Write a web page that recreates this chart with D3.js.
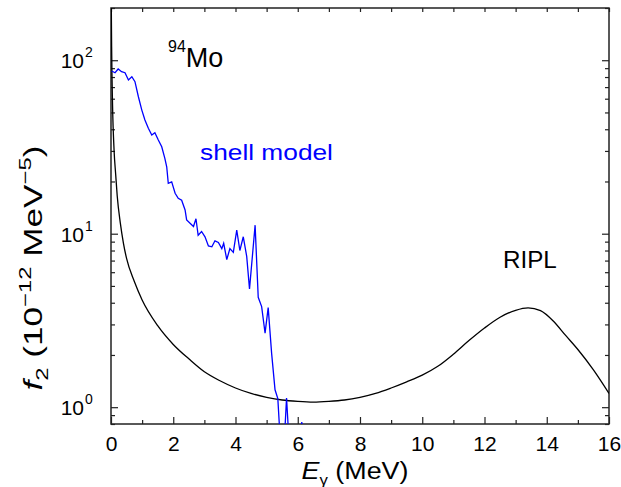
<!DOCTYPE html>
<html><head><meta charset="utf-8">
<script src="https://cdn.jsdelivr.net/npm/d3@7"></script>
<style>
body{margin:0;background:#fff;}
text{font-family:"Liberation Sans",Arial,sans-serif;}
</style></head>
<body>
<svg id="chart" width="621" height="487"></svg>
<script>
// RIPL curve (E in MeV, f2 in 1e-12 MeV^-5)
const riplE = [0.005,0.02,0.05,0.1,0.15,0.2,0.3,0.4,0.5,0.75,1.0,1.5,2.0,2.5,3.0,3.5,4.0,4.5,5.0,5.5,6.0,6.5,7.0,7.5,8.0,8.5,9.0,9.5,10.0,10.5,11.0,11.5,12.0,12.5,13.0,13.4,13.8,14.2,14.6,15.0,15.5,16.0];
const riplF = [260,120,55,30,22,16.5,11.5,8.8,7.2,5.3,4.15,2.95,2.3,1.9,1.6,1.42,1.29,1.2,1.14,1.1,1.08,1.07,1.08,1.1,1.14,1.2,1.29,1.4,1.53,1.72,2.02,2.42,2.86,3.3,3.62,3.74,3.6,3.15,2.6,2.15,1.64,1.2];
// Shell model
const shellE = [0.02,0.13,0.23,0.34,0.45,0.56,0.67,0.77,0.88,0.99,1.09,1.20,1.31,1.41,1.52,1.63,1.73,1.79,1.84,1.95,2.06,2.16,2.27,2.38,2.43,2.54,2.65,2.73,2.80,2.91,3.02,3.13,3.24,3.34,3.45,3.56,3.62,3.72,3.82,3.93,4.04,4.14,4.25,4.36,4.45,4.63,4.73,4.84,4.95,5.05,5.16,5.27,5.36,5.46,5.55,5.64,5.74,6.0,6.13,6.22];
const shellF = [86.7,84.7,89.0,85.9,84.7,76.9,80.3,75.2,61.6,51.6,45.2,40.5,37.1,38.2,34.7,31.7,27.2,24.3,19.5,19.9,17.1,16.0,15.6,13.7,12.0,11.5,11.0,12.2,9.8,10.3,9.6,8.5,8.4,9.1,8.9,8.2,8.8,7.1,8.2,7.8,10.5,8.0,9.6,7.4,4.8,11.2,4.3,3.8,2.67,3.75,2.05,1.26,1.12,0.55,0.55,1.13,0.55,0.5,0.82,0.5];
const xTicks = [0,2,4,6,8,10,12,14,16];
const yTicks = [1,10,100];

const svg = d3.select("#chart");
const L=111, R=609, T=8, B=424;
const x = d3.scaleLinear().domain([0,16]).range([L,R]);
const y = d3.scaleLog().domain([0.8,200]).range([B,T]);

svg.append("clipPath").attr("id","clip").append("rect")
  .attr("x",L).attr("y",T).attr("width",R-L).attr("height",B-T);

const minorY = [0.8,0.9,2,3,4,5,6,7,8,9,20,30,40,50,60,70,80,90,200];
const minorX = d3.range(1,16,2);

// bottom axis
const gB = svg.append("g").attr("transform",`translate(0,${B})`);
gB.call(d3.axisBottom(x).tickValues(xTicks).tickSize(-7).tickPadding(12).tickFormat(d3.format("d")));
gB.append("g").call(d3.axisBottom(x).tickValues(minorX).tickSize(-4).tickFormat(""));
// top axis
const gT = svg.append("g").attr("transform",`translate(0,${T})`);
gT.call(d3.axisTop(x).tickValues(d3.range(0,17,1)).tickSize(-4).tickFormat(""));
// left axis
const gL = svg.append("g").attr("transform",`translate(${L},0)`);
gL.call(d3.axisLeft(y).tickValues(yTicks).tickSize(-7).tickFormat(""));
gL.append("g").call(d3.axisLeft(y).tickValues(minorY).tickSize(-4).tickFormat(""));
// right axis
const gR = svg.append("g").attr("transform",`translate(${R},0)`);
gR.call(d3.axisRight(y).tickValues(yTicks).tickSize(-7).tickFormat(""));
gR.append("g").call(d3.axisRight(y).tickValues(minorY).tickSize(-4).tickFormat(""));

svg.selectAll(".domain").remove();
svg.selectAll(".tick line").attr("stroke","#222").attr("stroke-width",1.2);
svg.selectAll(".tick text").attr("font-size",21).attr("fill","#000")
  .style("font-family",'"Liberation Sans",Arial,sans-serif');

// y tick labels 10^n
yTicks.forEach(v=>{
  svg.append("text").attr("x",84).attr("y",y(v)+8).attr("text-anchor","end")
    .attr("font-size",21).text("10");
  svg.append("text").attr("x",85).attr("y",y(v)-3).attr("font-size",14).text(Math.round(Math.log10(v)));
});

// frame
svg.append("rect").attr("x",L).attr("y",T).attr("width",R-L).attr("height",B-T)
  .attr("fill","none").attr("stroke","#222").attr("stroke-width",1.5);

const riplPts = riplE.map((e,i)=>[e,riplF[i]]);
const shellPts = shellE.map((e,i)=>[e,shellF[i]]);

svg.append("path").attr("clip-path","url(#clip)")
  .attr("d", d3.line().x(d=>x(d[0])).y(d=>y(d[1])).curve(d3.curveMonotoneX)(riplPts))
  .attr("fill","none").attr("stroke","#000").attr("stroke-width",1.3);
svg.append("path").attr("clip-path","url(#clip)")
  .attr("d", d3.line().x(d=>x(d[0])).y(d=>y(d[1]))(shellPts))
  .attr("fill","none").attr("stroke","#0000ff").attr("stroke-width",1.3);

// helper: fit text to a given length along its direction
function fit(g, t, target){
  const w = t.node().getBBox().width;
  t.attr("transform",`scale(${target/w},1)`);
}

// labels
const mo = svg.append("text").attr("x",168).attr("y",67).attr("font-size",27);
mo.append("tspan").attr("font-size",16).attr("dy",-15).text("94");
mo.append("tspan").attr("dy",15).text("Mo");

const gs = svg.append("g").attr("transform","translate(200,160)");
const ts = gs.append("text").attr("font-size",22).attr("fill","#0000ff").text("shell model");
fit(gs, ts, 133);
const gr = svg.append("g").attr("transform","translate(503,268)");
const tr = gr.append("text").attr("font-size",23).text("RIPL");
fit(gr, tr, 54);

// x title
const gx = svg.append("g").attr("transform","translate(355,479)");
const xt = gx.append("text").attr("text-anchor","middle").attr("font-size",24);
xt.append("tspan").attr("font-style","italic").text("E");
xt.append("tspan").attr("font-size",15).attr("dy",6).text("γ");
xt.append("tspan").attr("dy",-6).text(" (MeV)");
fit(gx, xt, 107);

// y title
const gy = svg.append("g").attr("transform","translate(42,268) rotate(-90)");
const yt = gy.append("text").attr("text-anchor","middle").attr("font-size",25);
yt.append("tspan").attr("font-style","italic").text("f");
yt.append("tspan").attr("font-size",17).attr("dy",6).text("2");
yt.append("tspan").attr("dy",-6).text(" (10");
yt.append("tspan").attr("font-size",17).attr("dy",-11).text("−12");
yt.append("tspan").attr("dy",11).text(" MeV");
yt.append("tspan").attr("font-size",17).attr("dy",-11).text("−5");
yt.append("tspan").attr("dy",11).text(")");
fit(gy, yt, 245);
</script>
</body></html>
